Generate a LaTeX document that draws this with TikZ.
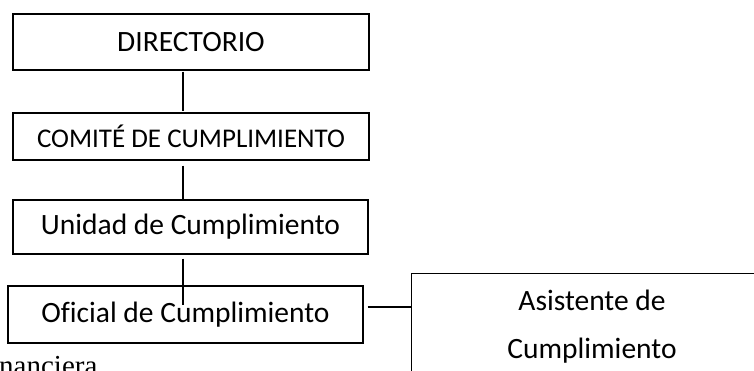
\documentclass[tikz,border=0pt]{standalone}
\usepackage{fontspec}
\setmainfont{Carlito}[Ligatures=NoCommon]
\newfontfamily\fragfont{Liberation Serif}
\begin{document}
\begin{tikzpicture}[x=1pt,y=-1pt,
  orgbox/.style={draw=black, line width=1.1pt, inner sep=0pt, align=center,
    font=\fontsize{29.5}{48}\selectfont},
  link/.style={draw=black, line width=1.1pt}]
\useasboundingbox (0,0) rectangle (754,370);
\clip (0,0) rectangle (754,370);
\fill[white] (0,0) rectangle (754,370);
\node[orgbox, minimum width=356pt, minimum height=56pt] (dir) at (191,42) {DIRECTORIO};
\node[orgbox, minimum width=356pt, minimum height=47pt, font=\fontsize{27}{32}\selectfont] (com) at (191,136.5) {COMITÉ DE CUMPLIMIENTO};
\node[orgbox, minimum width=355pt, minimum height=54pt] (uni) at (190.5,227) {Unidad de Cumplimiento};
\node[orgbox, minimum width=355pt, minimum height=57pt] (ofi) at (185.5,314.5) {Oficial de Cumplimiento};
\node[draw=black, line width=1.1pt, inner sep=0pt, minimum width=360pt, minimum height=140pt, anchor=north west] (asi) at (411,273) {};
\node[inner sep=0pt, align=center, font=\fontsize{29.5}{48}\selectfont] (asitxt) at (592,327) {Asistente de\\Cumplimiento};
\node[anchor=base west, inner sep=0pt, font=\fragfont\fontsize{29}{34}\selectfont] (frag) at (-1,375) {nanciera};
\coordinate (vx) at (183,0);
\coordinate (hy) at (0,307);
\coordinate (ofiend) at (183,305);
\draw[link, shorten <=1pt, shorten >=1pt] (dir.south -| vx) -- (com.north -| vx);
\draw[link, shorten <=5pt] (com.south -| vx) -- (uni.north -| vx);
\draw[link, shorten <=4pt] (uni.south -| vx) -- (ofiend);
\draw[link, shorten <=4pt] (ofi.east |- hy) -- (asi.west |- hy);
\end{tikzpicture}
\end{document}
